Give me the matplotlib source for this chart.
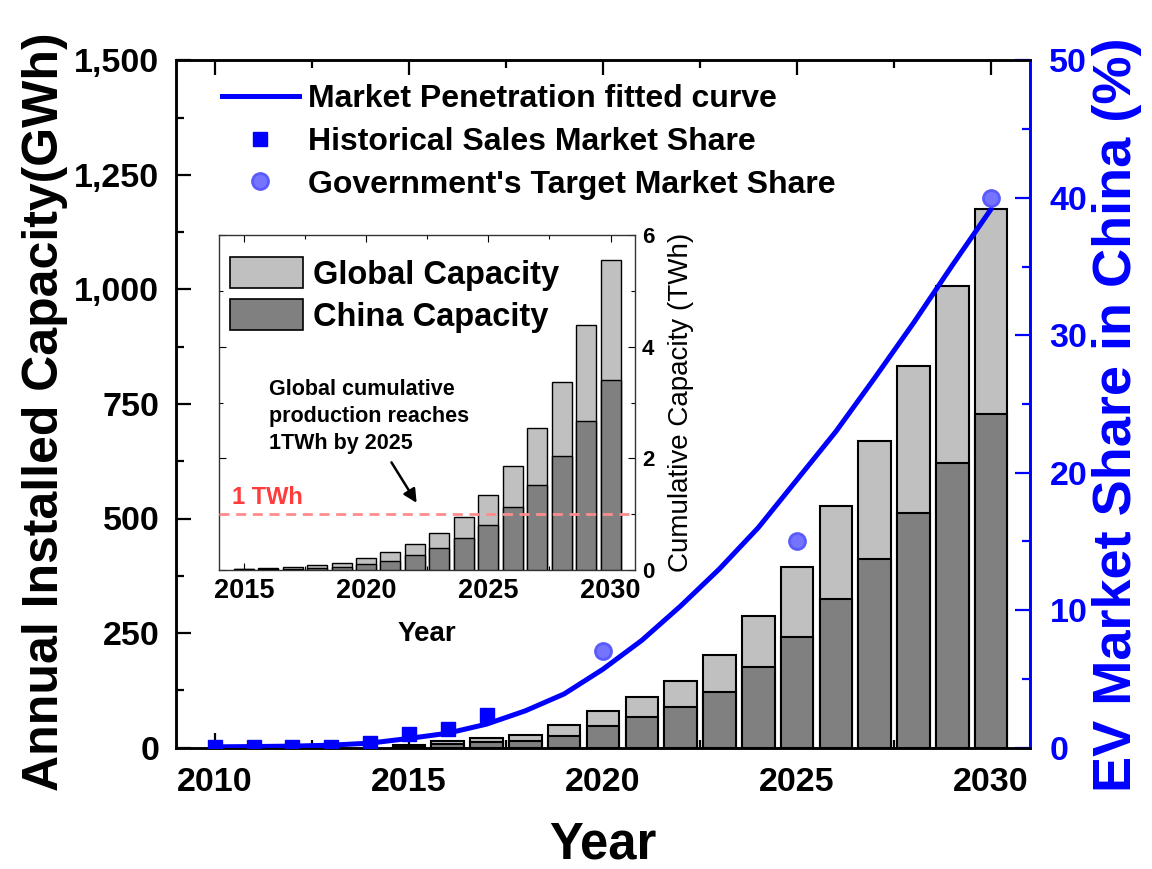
import matplotlib
matplotlib.use("Agg")
import matplotlib.pyplot as plt
from matplotlib import font_manager
from matplotlib.patches import Patch
from matplotlib.lines import Line2D
from matplotlib.ticker import MultipleLocator, FuncFormatter

# ---------------- data ----------------
bar_years = [2015, 2016, 2017, 2018, 2019, 2020, 2021, 2022,
             2023, 2024, 2025, 2026, 2027, 2028, 2029, 2030]
global_annual_gwh = [5, 13.5, 21, 27, 49, 79, 110, 146,
                     201, 287, 394, 527, 669, 833, 1007, 1175]
china_annual_gwh = [3, 7, 12, 14, 25.5, 47, 66, 89,
                    122, 175, 242, 324, 412, 513, 622, 728]

global_cum_twh = [0.018, 0.03, 0.054, 0.084, 0.13, 0.21, 0.32, 0.46,
                  0.66, 0.95, 1.34, 1.87, 2.54, 3.37, 4.38, 5.56]
china_cum_twh = [0.012, 0.02, 0.024, 0.036, 0.06, 0.11, 0.17, 0.26,
                 0.39, 0.57, 0.80, 1.13, 1.53, 2.05, 2.67, 3.40]

fit_years = list(range(2010, 2031))
fit_share = [0.05, 0.07, 0.10, 0.17, 0.32, 0.66, 1.04, 1.7, 2.67, 3.9, 5.7,
             7.8, 10.3, 13.0, 16.0, 19.5, 23.0, 26.9, 30.9, 35.1, 39.2]

hist_years = [2010, 2011, 2012, 2013, 2014, 2015, 2016, 2017]
hist_share = [0.02, 0.04, 0.05, 0.07, 0.33, 0.95, 1.32, 2.37]

target_years = [2020, 2025, 2030]
target_share = [7, 15, 40]

main_xticks = [2010, 2015, 2020, 2025, 2030]
inset_xticks = [2015, 2020, 2025, 2030]
threshold_twh = 1.0

# ---------------- fonts ----------------
names = {f.name for f in font_manager.fontManager.ttflist}
plt.rcParams['font.family'] = ['Liberation Sans', 'DejaVu Sans']
plt.rcParams['font.weight'] = 'bold'
if 'Liberation Sans Narrow' in names:
    label_family = ['Liberation Sans Narrow', 'Liberation Sans', 'DejaVu Sans']
    left_size, right_size = 44, 47
else:
    label_family = ['Liberation Sans', 'DejaVu Sans']
    left_size, right_size = 36, 39

W, H = 1152, 869
fig = plt.figure(figsize=(W / 100, H / 100), dpi=100)

def fx(px):
    return px / W

def fy(py):
    return 1 - py / H

light = '#c0c0c0'
dark = '#808080'
blue = '#0000ff'

# ---------------- main axes ----------------
x0, x1, y0, y1 = 176, 1030, 60.5, 747.5
ax = fig.add_axes([fx(x0), fy(y1), (x1 - x0) / W, (y1 - y0) / H])
ax.set_xlim(2009, 2031)
ax.set_ylim(0, 1500)

ax.bar(bar_years, global_annual_gwh, width=0.84, color=light,
       edgecolor='black', linewidth=1.5, zorder=2)
ax.bar(bar_years, china_annual_gwh, width=0.84, color=dark,
       edgecolor='black', linewidth=1.5, zorder=3)

ax.set_xticks(main_xticks)
ax.xaxis.set_minor_locator(MultipleLocator(2.5))
ax.yaxis.set_major_locator(MultipleLocator(250))
ax.yaxis.set_minor_locator(MultipleLocator(125))
ax.yaxis.set_major_formatter(FuncFormatter(lambda v, p: f'{v:,.0f}'))
ax.tick_params(axis='both', which='major', direction='in', length=11,
               width=1.6, labelsize=24.5)
ax.tick_params(axis='both', which='minor', direction='in', length=5.5,
               width=1.6)
ax.tick_params(axis='x', which='both', top=True, pad=14)
ax.tick_params(axis='y', which='both', left=True, right=False, pad=12)
for s in ax.spines.values():
    s.set_linewidth(1.8)

# ---------------- market share axis ----------------
ax2 = ax.twinx()
ax2.set_ylim(0, 50)
ax2.yaxis.set_major_locator(MultipleLocator(10))
ax2.yaxis.set_minor_locator(MultipleLocator(5))
ax2.tick_params(axis='y', which='major', direction='in', length=11,
                width=1.6, labelsize=24.5, colors=blue, pad=14)
ax2.tick_params(axis='y', which='minor', direction='in', length=5.5,
                width=1.6, colors=blue)
for s in ax2.spines.values():
    s.set_linewidth(1.8)
ax2.spines['right'].set_color(blue)

ax2.plot(fit_years, fit_share, color=blue, lw=3.6, zorder=4,
         solid_capstyle='round', solid_joinstyle='round')
ax2.plot(hist_years, hist_share, ls='none', marker='s', ms=10.5,
         color=blue, zorder=5)
ax2.plot(target_years, target_share, ls='none', marker='o', ms=11.5,
         markerfacecolor='#7474ff', markeredgecolor='#5a5aff',
         markeredgewidth=2, zorder=5)

leg_handles = [
    Line2D([], [], color=blue, lw=3.6),
    Line2D([], [], ls='none', marker='s', ms=10.5, color=blue),
    Line2D([], [], ls='none', marker='o', ms=11.5,
           markerfacecolor='#7474ff', markeredgecolor='#5a5aff',
           markeredgewidth=2),
]
leg_labels = ['Market Penetration fitted curve',
              'Historical Sales Market Share',
              "Government's Target Market Share"]
ax2.legend(leg_handles, leg_labels, loc='upper left',
           bbox_to_anchor=(fx(222), fy(84)), bbox_transform=fig.transFigure,
           frameon=False, fontsize=23, handlelength=2.4, handletextpad=0.3,
           labelspacing=0.4, borderpad=0, borderaxespad=0)

# ---------------- axis titles ----------------
fig.text(fx(45), fy(412), 'Annual Installed Capacity(GWh)', rotation=90,
         ha='center', va='center', fontsize=left_size, fontweight='bold',
         family=label_family)
fig.text(fx(1117), fy(415), 'EV Market Share in China (%)', rotation=90,
         ha='center', va='center', fontsize=right_size, fontweight='bold',
         color=blue, family=label_family)
fig.text(fx(603), fy(845), 'Year', ha='center', va='center',
         fontsize=36.5, fontweight='bold')

# ---------------- inset: cumulative capacity ----------------
ix0, ix1, iy0, iy1 = 219.3, 635, 235, 570
ins = fig.add_axes([fx(ix0), fy(iy1), (ix1 - ix0) / W, (iy1 - iy0) / H],
                   zorder=10)
ins.set_facecolor('white')
ins.set_xlim(2014, 2031)
ins.set_ylim(0, 6)
ins.bar(bar_years, global_cum_twh, width=0.82, color=light,
        edgecolor='black', linewidth=1.0, zorder=2)
ins.bar(bar_years, china_cum_twh, width=0.82, color=dark,
        edgecolor='black', linewidth=1.0, zorder=3)
ins.axhline(threshold_twh, color='#ff8c8c', lw=2, ls=(0, (3.6, 2.4)),
            zorder=4)
ins.text(2014.52, 1.29, '1 TWh', color='#ff3b3b', fontsize=17,
         fontweight='bold', ha='left', va='center')

ins.set_xticks(inset_xticks)
ins.xaxis.set_minor_locator(MultipleLocator(2.5))
ins.yaxis.set_major_locator(MultipleLocator(2))
ins.yaxis.set_minor_locator(MultipleLocator(1))
ins.yaxis.tick_right()
ins.tick_params(axis='x', which='both', direction='in', top=True,
                bottom=True, labelsize=19.5, pad=6, width=0.8)
ins.tick_params(axis='x', which='major', length=5)
ins.tick_params(axis='x', which='minor', length=3)
ins.tick_params(axis='y', which='both', direction='in', left=True,
                right=True, labelleft=False, labelright=True,
                labelsize=16, pad=5, width=0.8)
ins.tick_params(axis='y', which='major', length=5)
ins.tick_params(axis='y', which='minor', length=3)
for s in ins.spines.values():
    s.set_linewidth(1.0)
    s.set_color('#333333')

ins.set_xlabel('Year', fontsize=20, fontweight='bold', labelpad=12)
ins.yaxis.set_label_position('right')
ins.set_ylabel('Cumulative Capacity (TWh)', fontsize=20,
               fontweight='normal', labelpad=10)

ins.legend([Patch(facecolor=light, edgecolor='black', lw=1.2),
            Patch(facecolor=dark, edgecolor='black', lw=1.2)],
           ['Global Capacity', 'China Capacity'], loc='upper left',
           bbox_to_anchor=(fx(230), fy(257)), bbox_transform=fig.transFigure,
           frameon=False, fontsize=23.5, handlelength=2.23, handleheight=1.1,
           handletextpad=0.3, labelspacing=0.25, borderpad=0, borderaxespad=0)

ins.text(0.12, 0.4576, 'Global cumulative\nproduction reaches\n1TWh by 2025',
         transform=ins.transAxes, ha='left', va='center', fontsize=15.5,
         fontweight='bold', linespacing=1.38)
ins.annotate('', xy=(2022.13, 1.16), xytext=(2020.98, 1.97),
             arrowprops=dict(arrowstyle='-|>', color='black', lw=1.8,
                             mutation_scale=20))

fig.savefig('out.png', dpi=100)
